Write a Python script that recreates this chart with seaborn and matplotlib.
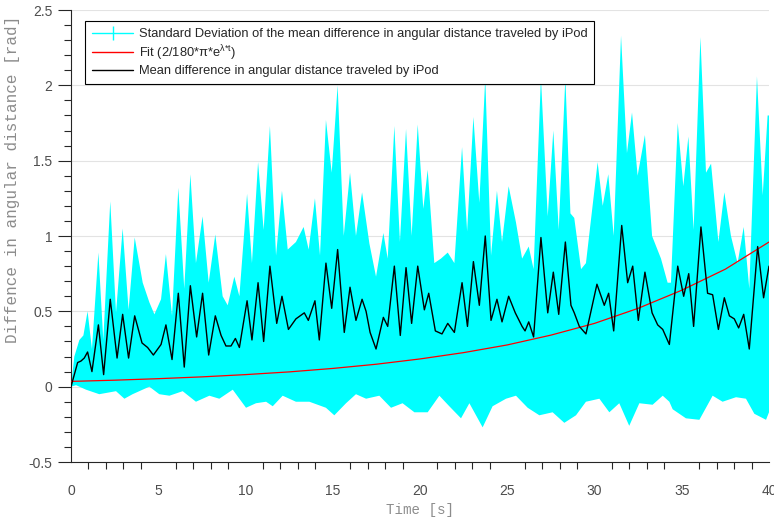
import numpy as np
import pandas as pd
import matplotlib
matplotlib.use("Agg")
import matplotlib.pyplot as plt
import seaborn as sns
from matplotlib import font_manager as fm
from matplotlib.lines import Line2D
from matplotlib.ticker import MultipleLocator

# ---- data ----
t_mean = [0, 0.38, 0.57, 0.76, 0.95, 1.20, 1.57, 1.87, 2.25, 2.64, 2.96, 3.30, 3.65, 4.07, 4.39,
          4.72, 5.16, 5.44, 5.79, 6.15, 6.49, 6.84, 7.20, 7.54, 7.89, 8.27, 8.60, 8.88, 9.17, 9.42,
          9.65, 10.09, 10.37, 10.72, 11.04, 11.40, 11.79, 12.09, 12.46, 12.89, 13.37, 13.60, 13.98,
          14.23, 14.61, 14.94, 15.28, 15.66, 15.99, 16.33, 16.68, 16.91, 17.14, 17.48, 17.90, 18.15,
          18.53, 18.87, 19.20, 19.52, 19.87, 20.25, 20.50, 20.88, 21.26, 21.59, 21.97, 22.41, 22.72,
          23.06, 23.40, 23.74, 24.07, 24.41, 24.70, 25.08, 25.46, 25.85, 26.02, 26.23, 26.51, 26.93,
          27.32, 27.64, 27.95, 28.33, 28.65, 28.84, 29.13, 29.51, 30.14, 30.56, 30.81, 31.10, 31.56,
          31.90, 32.19, 32.51, 32.89, 33.30, 33.62, 33.91, 34.29, 34.77, 35.11, 35.40, 35.68, 36.10,
          36.48, 36.77, 37.10, 37.44, 37.73, 38.01, 38.26, 38.55, 38.87, 39.35, 39.69, 40.0]
mean_diff = [0.0, 0.16, 0.17, 0.19, 0.23, 0.10, 0.41, 0.08, 0.58, 0.19, 0.48, 0.19, 0.47, 0.29, 0.26,
             0.21, 0.28, 0.41, 0.18, 0.62, 0.13, 0.67, 0.33, 0.62, 0.21, 0.47, 0.34, 0.27, 0.27, 0.32,
             0.26, 0.57, 0.31, 0.69, 0.30, 0.80, 0.42, 0.60, 0.38, 0.45, 0.49, 0.44, 0.57,
             0.31, 0.82, 0.52, 0.91, 0.36, 0.66, 0.44, 0.58, 0.50, 0.36, 0.25, 0.46, 0.40,
             0.80, 0.34, 0.79, 0.42, 0.80, 0.51, 0.62, 0.37, 0.35, 0.42, 0.36, 0.69, 0.40,
             0.83, 0.54, 1.00, 0.44, 0.58, 0.43, 0.60, 0.49, 0.40, 0.37, 0.43, 0.33, 0.99,
             0.49, 0.76, 0.48, 0.96, 0.54, 0.49, 0.40, 0.35, 0.68, 0.54, 0.62, 0.37, 1.07,
             0.69, 0.80, 0.44, 0.76, 0.49, 0.41, 0.38, 0.28, 0.80, 0.60, 0.75, 0.40, 1.06,
             0.62, 0.61, 0.38, 0.59, 0.47, 0.45, 0.39, 0.48, 0.25, 0.93, 0.59, 0.80]

t_upper = [0.0, 0.19, 0.48, 0.71, 0.95, 1.20, 1.57, 1.85, 2.25, 2.58, 2.96, 3.30, 3.65, 4.11, 4.49,
           4.78, 5.16, 5.44, 5.79, 6.15, 6.49, 6.84, 7.16, 7.54, 7.89, 8.27, 8.69, 8.98, 9.36, 9.65,
           10.09, 10.37, 10.72, 11.04, 11.40, 11.75, 12.09, 12.42, 12.89, 13.33, 13.62, 13.98, 14.27,
           14.61, 14.94, 15.28, 15.63, 15.99, 16.33, 16.68, 17.10, 17.48, 17.90, 18.15, 18.53, 18.85,
           19.20, 19.52, 19.87, 20.19, 20.44, 20.82, 21.20, 21.59, 21.97, 22.41, 22.70, 23.06, 23.40,
           23.74, 24.07, 24.41, 24.70, 25.08, 25.50, 25.85, 26.23, 26.51, 26.93, 27.32, 27.64, 27.95,
           28.33, 28.62, 28.84, 29.23, 29.51, 30.18, 30.47, 30.79, 31.10, 31.52, 31.86, 32.15, 32.47,
           32.89, 33.30, 33.81, 34.19, 34.38, 34.77, 35.09, 35.38, 35.68, 36.07, 36.39, 36.68, 37.10,
           37.44, 37.82, 38.20, 38.55, 38.87, 39.31, 39.64, 39.92, 40.0]
upper_env = [0.0, 0.20, 0.31, 0.34, 0.50, 0.25, 0.89, 0.31, 1.23, 0.49, 1.05, 0.51, 0.99, 0.69, 0.56,
             0.48, 0.58, 0.88, 0.47, 1.32, 0.65, 1.41, 0.82, 1.13, 0.69, 1.01, 0.60, 0.54, 0.73, 0.60,
             1.28, 0.82, 1.49, 1.04, 1.73, 0.87, 1.30, 0.91, 0.96, 1.06, 0.91, 1.25, 0.87,
             1.77, 1.42, 2.00, 1.00, 1.42, 1.00, 1.29, 0.95, 0.73, 1.02, 0.85, 1.73, 0.96,
             1.71, 1.00, 1.74, 1.18, 1.44, 0.82, 0.85, 0.89, 0.82, 1.59, 1.03, 1.79, 1.22,
             2.05, 0.87, 1.30, 0.96, 1.33, 1.09, 0.85, 0.93, 0.78, 2.05, 1.13, 1.70, 1.04,
             2.05, 1.15, 1.12, 0.78, 0.82, 1.49, 1.20, 1.41, 1.00, 2.33, 1.55, 1.82, 1.40,
             1.67, 1.00, 0.85, 0.69, 0.69, 1.75, 1.33, 1.66, 1.04, 2.32, 1.42, 1.48, 0.96,
             1.29, 1.00, 0.82, 1.06, 0.65, 2.06, 1.27, 1.80, 1.80]

t_lower = [0.0, 0.29, 0.86, 1.62, 2.58, 3.06, 3.53, 4.49, 5.06, 5.64, 6.40, 7.16, 7.93, 8.50, 9.27,
           10.03, 10.60, 11.18, 11.56, 12.13, 12.89, 13.66, 14.61, 15.09, 15.76, 16.33, 16.91, 17.67,
           18.34, 19.00, 19.68, 20.44, 21.11, 21.68, 22.35, 22.83, 23.59, 24.16, 24.93, 25.50, 26.17,
           26.84, 27.60, 28.27, 28.94, 29.51, 30.28, 30.85, 31.42, 31.99, 32.57, 33.33, 33.91, 34.29,
           34.48, 35.24, 36.01, 36.77, 37.34, 38.11, 38.68, 39.16, 39.83, 40.0]
lower_env = [0.0, 0.01, -0.02, -0.05, -0.03, -0.08, -0.05, 0.00, -0.05, -0.06, -0.03, -0.10, -0.06,
             -0.08, -0.02, -0.14, -0.11, -0.10, -0.13, -0.06, -0.10, -0.10, -0.14, -0.19, -0.11,
             -0.05, -0.08, -0.06, -0.14, -0.11, -0.17, -0.17, -0.06, -0.13, -0.21, -0.11, -0.27,
             -0.13, -0.08, -0.06, -0.14, -0.19, -0.17, -0.24, -0.19, -0.10, -0.08, -0.17, -0.11,
             -0.26, -0.11, -0.12, -0.06, -0.10, -0.15, -0.21, -0.22, -0.06, -0.10, -0.07, -0.08,
             -0.18, -0.22, -0.17]

t_fit = [0, 2.5, 5, 7.5, 10, 12.5, 15, 17.5, 20, 22.5, 25, 27.5, 30, 32.5, 35, 37.5, 40]
fit_vals = [0.035, 0.043, 0.053, 0.065, 0.080, 0.098, 0.121, 0.149, 0.184, 0.226, 0.277, 0.342,
            0.420, 0.520, 0.640, 0.780, 0.960]

x_ticks = [0, 5, 10, 15, 20, 25, 30, 35, 40]
y_ticks = [-0.5, 0, 0.5, 1, 1.5, 2, 2.5]
y_ticklabels = ["-0.5", "0", "0.5", "1", "1.5", "2", "2.5"]

label_sd = "Standard Deviation of the mean difference in angular distance traveled by iPod"
label_fit = r"Fit (2/180*π*e$^{\mathrm{λ{*}t}}$)"
label_mean = "Mean difference in angular distance traveled by iPod"

# ---- styling ----
sns.set_theme(style="white")
names = {f.name for f in fm.fontManager.ttflist}
tick_family = "Liberation Sans Narrow" if "Liberation Sans Narrow" in names else "Liberation Sans"
mono_family = "Liberation Mono" if "Liberation Mono" in names else "DejaVu Sans Mono"
plt.rcParams["font.family"] = ["Liberation Sans", "DejaVu Sans"]
plt.rcParams["mathtext.fontset"] = "custom"
plt.rcParams["mathtext.rm"] = "Liberation Sans"
plt.rcParams["mathtext.it"] = "Liberation Sans:italic"

fig = plt.figure(figsize=(7.74, 5.17), dpi=100)
ax = fig.add_axes([71 / 774, 1 - 462 / 517, 698 / 774, 452 / 517])
ax.set_facecolor("white")

# std-dev band
poly_x = np.concatenate([np.asarray(t_upper), np.asarray(t_lower)[::-1]])
poly_y = np.concatenate([np.asarray(upper_env), np.asarray(lower_env)[::-1]])
ax.fill(poly_x, poly_y, color="#00ffff", lw=0, zorder=2)

df_fit = pd.DataFrame({"t": t_fit, "v": fit_vals})
df_mean = pd.DataFrame({"t": t_mean, "v": mean_diff})
sns.lineplot(data=df_fit, x="t", y="v", color="#ff0000", lw=0.9, ax=ax, zorder=3)
sns.lineplot(data=df_mean, x="t", y="v", color="black", lw=1.0, ax=ax, zorder=4)
for ln in ax.get_lines():
    ln.set_solid_joinstyle("round")

ax.set_xlim(0, 40)
ax.set_ylim(-0.5, 2.5)
ax.set_xticks(x_ticks)
ax.set_xticklabels([str(v) for v in x_ticks])
ax.set_yticks(y_ticks)
ax.set_yticklabels(y_ticklabels)
ax.xaxis.set_minor_locator(MultipleLocator(1))
ax.yaxis.set_minor_locator(MultipleLocator(0.1))

for side in ["top", "right"]:
    ax.spines[side].set_visible(False)
for side in ["left", "bottom"]:
    ax.spines[side].set_color("#262626")
    ax.spines[side].set_linewidth(0.8)

ax.tick_params(which="major", direction="out", length=9.5, width=0.8, color="#262626",
               labelsize=10, labelcolor="#4d4d4d", pad=4)
ax.tick_params(which="minor", direction="out", length=5, width=0.8, color="#262626")
ax.tick_params(axis="x", which="major", pad=6.5)
ax.tick_params(axis="x", which="minor", bottom=True)
ax.tick_params(axis="y", which="both", left=True)
for lab in ax.get_xticklabels() + ax.get_yticklabels():
    lab.set_family(tick_family)

ax.yaxis.grid(True, color="#e3e3e3", lw=0.8, zorder=0)
ax.xaxis.grid(False)
ax.set_axisbelow(True)

ax.set_xlabel("Time [s]", family=mono_family, fontsize=10.2, color="#8c8c8c")
ax.xaxis.set_label_coords(0.5, -0.091)
ax.set_ylabel("Diffence in angular distance [rad]", family=mono_family, fontsize=11.5,
              color="#8c8c8c")
ax.yaxis.set_label_coords(-0.073, 0.625)

handles = [
    Line2D([0], [0], color="#00ffff", lw=1.0, marker="|", markersize=10, markeredgewidth=1.0),
    Line2D([0], [0], color="#ff0000", lw=1.0),
    Line2D([0], [0], color="black", lw=1.0),
]
leg = ax.legend(handles, [label_sd, label_fit, label_mean], loc="upper left",
                bbox_to_anchor=(0.02, 0.975), borderaxespad=0, fontsize=9.3, frameon=True,
                fancybox=False, framealpha=1, edgecolor="black", handlelength=3.2,
                handletextpad=0.4, labelspacing=0.2, numpoints=1, borderpad=0.55)
leg.get_frame().set_linewidth(0.8)
leg.set_zorder(10)

fig.savefig("out.png", dpi=100)
